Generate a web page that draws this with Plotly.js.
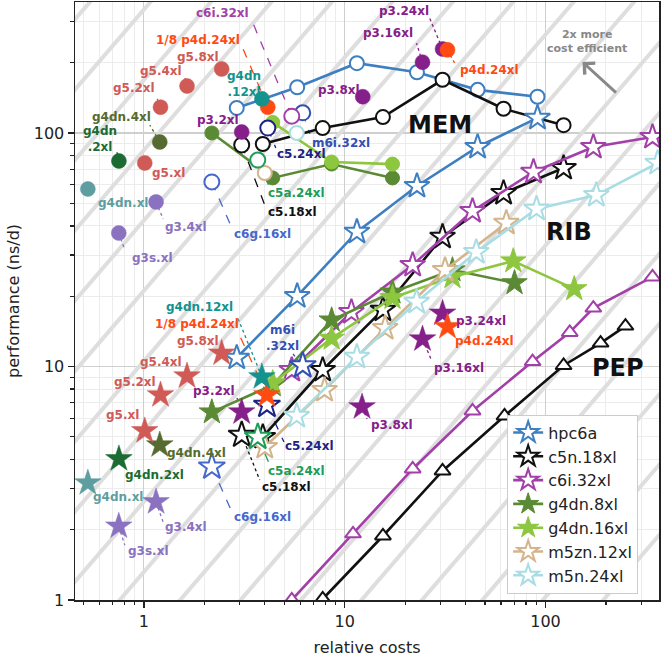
<!DOCTYPE html>
<html>
<head>
<meta charset="utf-8">
<script src="https://cdn.plot.ly/plotly-3.0.1.min.js"></script>
<style>
  body { margin: 0; background: #fff; }
  #chart { width: 661px; height: 657px; }
</style>
</head>
<body>
<div id="chart"></div>
<script>
// ---- scaling series: one line per instance type, three benchmarks ----
// MEM = circles, RIB = stars, PEP = triangles
const SERIES_NAMES  = ['hpc6a', 'c5n.18xl', 'c6i.32xl', 'g4dn.8xl', 'g4dn.16xl', 'm5zn.12xl', 'm5n.24xl'];
const SERIES_COLORS = ['#3d7fc0', '#111111', '#a23fa8', '#5b8a35', '#8dc63f', '#d4b48c', '#a9dde4'];
const SERIES_FILLED = [false, false, false, true, true, false, false];

const MEM_COST = [
  [2.9, 5.8, 11.5, 22.9, 45.9, 91.2],
  [3.91, 7.77, 15.5, 30.7, 61.8, 123],
  [],
  [2.18, 4.38, 8.61, 17.3],
  [4.38, 8.61, 17.3],
  [4.0],
  [5.77]
];
const MEM_PERF = [
  [128, 157, 199, 182, 153, 143],
  [89.7, 105, 117, 169, 127, 108],
  [],
  [100, 64.2, 73.6, 64.2],
  [111, 75.1, 73.6],
  [67.4],
  [100]
];
const RIB_COST = [
  [2.9, 5.8, 11.5, 22.9, 45.9, 91.2],
  [3.91, 7.77, 15.5, 30.7, 61.8, 123],
  [5.45, 10.8, 21.8, 43.3, 87.1, 173, 341],
  [2.18, 4.38, 8.61, 17.3, 34.4, 70.1],
  [4.38, 8.61, 17.3, 34.4, 69.1, 139],
  [4.0, 7.94, 15.9, 31.6, 63.8],
  [5.77, 11.5, 22.8, 45.2, 90.2, 179, 362]
];
const RIB_PERF = [
  [10.9, 20.0, 37.7, 59.3, 87.1, 116],
  [4.99, 9.66, 17.5, 35.9, 55.3, 70.8],
  [9.66, 17.1, 27.2, 46.3, 68.1, 87.1, 96.1],
  [6.38, 8.33, 15.8, 20.8, 25.9, 22.8],
  [8.5, 13.2, 19.7, 24.2, 28.3, 21.5],
  [4.52, 7.93, 14.6, 25.9, 41.2],
  [6.14, 11.0, 18.9, 30.9, 47.3, 54.2, 74.4]
];
const PEP_COST = [
  [], [7.77, 15.5, 30.7, 62.5, 123, 188, 250],
  [5.45, 11.0, 21.8, 43.3, 86.2, 132, 173, 341],
  [], [], [], []
];
const PEP_PERF = [
  [], [1.01, 1.88, 3.57, 6.14, 10.1, 12.6, 14.9],
  [1.0, 1.92, 3.64, 6.45, 10.5, 14.0, 17.8, 24.2],
  [], [], [], []
];

// ---- single-node instances (MEM circle, RIB star) ----
const INST_NAMES = ['g4dn.xl', 'g4dn.2xl', 'g4dn.4xl', 'g5.xl', 'g5.2xl', 'g5.4xl', 'g5.8xl', 'g3.4xl', 'g3s.xl',
  'c6g.16xl', 'c5.18xl', 'c5a.24xl', 'c5.24xl', 'm6i.32xl', 'c6i.32xl', 'p3.2xl', '1/8 p4d.24xl', 'g4dn.12xl',
  'p3.8xl', 'p3.16xl', 'p3.24xl', 'p4d.24xl'];
const INST_COLORS = ['#5f9ea0', '#1b6b32', '#556b2f', '#d05a56', '#d05a56', '#d05a56', '#d05a56', '#8a72c0', '#8a72c0',
  '#4668cc', '#111111', '#1f9c58', '#1c2385', '#3350b4', '#a23fa8', '#85208a', '#ff4a12', '#14928e',
  '#85208a', '#85208a', '#85208a', '#ff4a12'];
const INST_OPEN = [false, false, false, false, false, false, false, false, false,
  true, true, true, true, true, true, false, false, false, false, false, false, false];
const MEM_INST_COST = [0.526, 0.751, 1.2, 1.01, 1.21, 1.64, 2.44, 1.15, 0.75, 2.18, 3.07, 3.69, 4.14, 6.18, 5.45, 3.07, 4.14, 3.87, 12.3, 24.4, 30.7, 32.5];
const MEM_INST_PERF = [57.6, 75.9, 91.5, 74.4, 129, 159, 188, 50.7, 37.3, 61.7, 88.9, 76.6, 105, 122, 118, 101, 129, 140, 143, 201, 229, 227];
const RIB_INST_COST = [0.526, 0.751, 1.2, 1.01, 1.21, 1.64, 2.44, 1.15, 0.75, 2.18, 3.07, 3.69, 4.1, 6.18, null, 3.07, 4.1, 3.87, 12.2, 24.4, 30.7, 32.5];
const RIB_INST_PERF = [3.17, 4.02, 4.61, 5.3, 7.55, 9.1, 11.4, 2.63, 2.07, 3.72, 5.09, 4.99, 6.84, 10.1, null, 6.38, 7.55, 9.02, 6.71, 13.1, 16.9, 14.8];

// label placement: [dx, dy, leaderEndDx, leaderEndDy, dash] in px from the marker
const MEM_LABELS = {
  'g4dn.xl': [35, 14], 'g4dn.2xl': [-19, -22, -2, -9, 'dot'], 'g4dn.4xl': [-38, -25, -10, -17, 'dot'],
  'g5.xl': [24, 10], 'g5.2xl': [-27, -19, -4, -10, 'dot'], 'g5.4xl': [-26, -15, -2, -8, 'dot'], 'g5.8xl': [-24, -12],
  'g3.4xl': [30, 25, 7, 17, 'dot'], 'g3s.xl': [34, 25, 6, 17, 'dot'], 'c6g.16xl': [51, 52, 20, 46, 'dash'],
  'c5.18xl': [51, 67, 23, 60, 'dash'], 'c5a.24xl': [39, 33, 12, 28, 'dash'], 'c5.24xl': [34, 26, 8, 20, 'dash'],
  'm6i.32xl': [38, 30, 7, 21, 'dash'], 'c6i.32xl': [-69, -103, -40, -96, 'dash'], 'p3.2xl': [-24, -12],
  '1/8 p4d.24xl': [-70, -67, -25, -59, 'dash'], 'g4dn.12xl': [-18, -15], 'p3.8xl': [-24, -7],
  'p3.16xl': [-35, -29, -6, -19, 'dot'], 'p3.24xl': [-39, -38, -13, -31, 'dot'], 'p4d.24xl': [42, 20, 7, 13, 'dot']
};
const RIB_LABELS = {
  'g4dn.xl': [30, 14], 'g4dn.2xl': [36, 16], 'g4dn.4xl': [37, 8], 'g5.xl': [-22, -16], 'g5.2xl': [-26, -13],
  'g5.4xl': [-26, -14], 'g5.8xl': [-24, -12], 'g3.4xl': [30, 25, 7, 20, 'dot'], 'g3s.xl': [30, 25, 6, 19, 'dot'],
  'c6g.16xl': [51, 50, 20, 45, 'dash'], 'c5.18xl': [45, 52, 18, 45, 'dot'], 'c5a.24xl': [39, 34, 12, 28, 'dash'],
  'c5.24xl': [43, 41, 17, 37, 'dash'], 'm6i.32xl': [-20, -27, -11, -13, 'dot'], 'p3.2xl': [-28, -21, -5, -15, 'dot'],
  '1/8 p4d.24xl': [-70, -71, -28, -61, 'dash'], 'g4dn.12xl': [-62, -70, -25, -61, 'dot'], 'p3.8xl': [30, 18, 5, 12, 'dot'],
  'p3.16xl': [36, 29, 9, 21, 'dot'], 'p3.24xl': [38, 8], 'p4d.24xl': [37, 14]
};
const MEM_TEXT = { 'g4dn.2xl': 'g4dn<br>.2xl', 'g4dn.12xl': 'g4dn<br>.12xl' };
const RIB_TEXT = { 'm6i.32xl': 'm6i<br>.32xl' };

// iso-efficiency guide lines, one every factor of 2 in perf/cost
const EFF_STEPS = [-16, -15, -14, -13, -12, -11, -10, -9, -8, -7, -6, -5, -4, -3, -2, -1, 0, 1, 2, 3, 4, 5, 6, 7, 8, 9, 10];
const EFF_OFFSET = 0.4;

const W = 661, H = 657, M = { l: 75, r: 2, t: 2, b: 57 };
const XR = [-0.343, 2.565], YR = [0, 2.561];
const xPerDec = (W - M.l - M.r) / (XR[1] - XR[0]);
const yPerDec = (H - M.t - M.b) / (YR[1] - YR[0]);
const FONT = 'DejaVu Sans, sans-serif';

const traces = [];
EFF_STEPS.forEach(n => {
  const f = Math.pow(2, n + EFF_OFFSET);
  traces.push({ x: [0.1, 1000], y: [0.1 * f, 1000 * f], mode: 'lines', type: 'scatter',
    line: { color: '#dedede', width: 4 }, hoverinfo: 'skip', showlegend: false });
});

// leader lines (under the markers)
function leaders(costs, perfs, table) {
  INST_NAMES.forEach((nm, i) => {
    const L = table[nm];
    if (!L || L.length < 5 || costs[i] == null) return;
    const x1 = costs[i] * Math.pow(10, L[2] / xPerDec), y1 = perfs[i] * Math.pow(10, -L[3] / yPerDec);
    traces.push({ x: [costs[i], x1], y: [perfs[i], y1], mode: 'lines', type: 'scatter',
      line: { color: INST_COLORS[i], width: 1.3, dash: L[4] }, hoverinfo: 'skip', showlegend: false });
  });
}
leaders(MEM_INST_COST, MEM_INST_PERF, MEM_LABELS);
leaders(RIB_INST_COST, RIB_INST_PERF, RIB_LABELS);

function seriesTrace(i, xs, ys, symbol, size, legend) {
  const c = SERIES_COLORS[i], filled = SERIES_FILLED[i];
  return { x: xs, y: ys, type: 'scatter', mode: 'lines+markers', name: SERIES_NAMES[i],
    legendgroup: SERIES_NAMES[i], showlegend: legend,
    line: { color: c, width: 2.6 },
    marker: { symbol: symbol, size: size, color: filled ? c : '#ffffff', line: { color: c, width: filled ? 1 : 2 } } };
}
SERIES_NAMES.forEach((nm, i) => {
  if (MEM_COST[i].length) traces.push(seriesTrace(i, MEM_COST[i], MEM_PERF[i], 'circle', 14, false));
  if (PEP_COST[i].length) traces.push(seriesTrace(i, PEP_COST[i], PEP_PERF[i], 'triangle-up', 14, false));
});
SERIES_NAMES.forEach((nm, i) => {
  traces.push(seriesTrace(i, RIB_COST[i], RIB_PERF[i], 'star', 19, true));
});

// single instances
INST_NAMES.forEach((nm, i) => {
  const c = INST_COLORS[i], open = INST_OPEN[i];
  const mk = (sym, size) => ({ symbol: sym, size: size, color: open ? '#ffffff' : c, line: { color: c, width: open ? 2 : 0.5 } });
  traces.push({ x: [MEM_INST_COST[i]], y: [MEM_INST_PERF[i]], type: 'scatter', mode: 'markers',
    marker: mk('circle', 15), showlegend: false, hoverinfo: 'skip' });
  if (RIB_INST_COST[i] != null) {
    traces.push({ x: [RIB_INST_COST[i]], y: [RIB_INST_PERF[i]], type: 'scatter', mode: 'markers',
      marker: mk('star', 20), showlegend: false, hoverinfo: 'skip' });
  }
});

const annotations = [];
function labels(costs, perfs, table, texts) {
  INST_NAMES.forEach((nm, i) => {
    const L = table[nm];
    if (!L || costs[i] == null) return;
    annotations.push({ x: Math.log10(costs[i]), y: Math.log10(perfs[i]), xref: 'x', yref: 'y',
      xshift: L[0], yshift: -L[1], showarrow: false, text: '<b>' + (texts[nm] || nm) + '</b>',
      font: { family: FONT, size: 12, color: INST_COLORS[i] }, align: 'center' });
  });
}
labels(MEM_INST_COST, MEM_INST_PERF, MEM_LABELS, MEM_TEXT);
labels(RIB_INST_COST, RIB_INST_PERF, RIB_LABELS, RIB_TEXT);

[['MEM', 1.473, 2.034], ['RIB', 2.119, 1.576], ['PEP', 2.363, 0.994]].forEach(g => {
  annotations.push({ x: g[1], y: g[2], xref: 'x', yref: 'y', showarrow: false, text: '<b>' + g[0] + '</b>',
    font: { family: FONT, size: 24, color: '#111' } });
});
annotations.push({ x: 2.204, y: 2.39, xref: 'x', yref: 'y', showarrow: false, text: '<b>2x more<br>cost efficient</b>',
  font: { family: FONT, size: 11, color: '#888' }, align: 'center' });
annotations.push({ x: 2.184, y: 2.304, xref: 'x', yref: 'y', text: '', showarrow: true, ax: 35, ay: 32,
  arrowhead: 4, arrowsize: 1, arrowwidth: 3, arrowcolor: '#888' });

const axisBase = {
  type: 'log', dtick: 1, showline: true, mirror: true, linecolor: '#222', linewidth: 1.5,
  ticks: 'outside', ticklen: 6, tickwidth: 1.3, tickcolor: '#222',
  showgrid: true, gridcolor: '#cfcfcf', gridwidth: 1.2, zeroline: false,
  tickfont: { family: FONT, size: 16, color: '#222' },
  minor: { dtick: 'D1', ticks: 'outside', ticklen: 3.5, tickcolor: '#222', showgrid: true, gridcolor: '#ececec', gridwidth: 1 }
};

const layout = {
  width: W, height: H, margin: M, paper_bgcolor: '#fff', plot_bgcolor: '#fff',
  font: { family: FONT, color: '#222' },
  xaxis: Object.assign({}, axisBase, { range: XR, title: { text: 'relative costs', font: { family: FONT, size: 16, color: '#222' }, standoff: 14 } }),
  yaxis: Object.assign({}, axisBase, { range: YR, title: { text: 'performance (ns/d)', font: { family: FONT, size: 16, color: '#222' }, standoff: 10 } }),
  legend: { x: 0.74, y: 0.31, xanchor: 'left', yanchor: 'top', bgcolor: '#fff', bordercolor: '#cccccc', borderwidth: 1,
    font: { family: FONT, size: 16, color: '#222' }, tracegroupgap: 0 },
  annotations: annotations
};

Plotly.newPlot('chart', traces, layout, { displayModeBar: false, staticPlot: true });
</script>
</body>
</html>
